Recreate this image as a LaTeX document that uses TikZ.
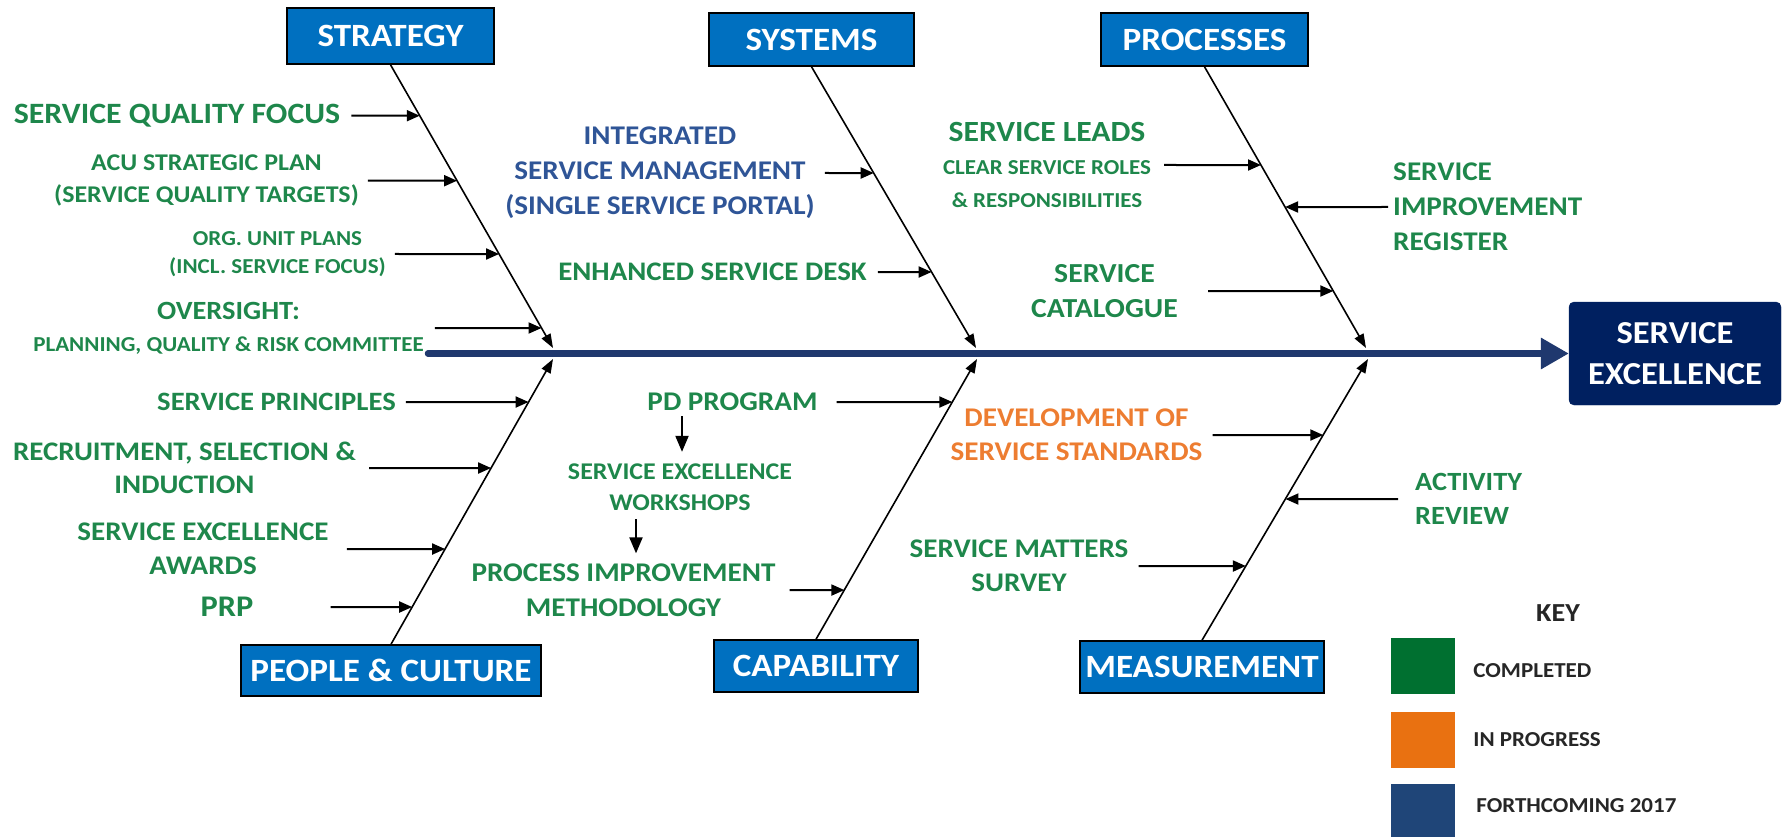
\documentclass[tikz,border=0pt]{standalone}
\usepackage{fontspec}
\setmainfont{Carlito}[FakeStretch=1.08]
\usetikzlibrary{arrows.meta,positioning}
\definecolor{catblue}{RGB}{0,112,192}
\definecolor{headnavy}{RGB}{0,32,96}
\definecolor{spinenavy}{RGB}{31,56,110}
\definecolor{donegreen}{RGB}{30,135,75}
\definecolor{textblue}{RGB}{47,85,151}
\definecolor{textorange}{RGB}{237,125,49}
\definecolor{keygreen}{RGB}{0,112,48}
\definecolor{keyorange}{RGB}{233,113,17}
\definecolor{keynavy}{RGB}{31,69,120}
\newcommand\fsz[2]{\fontsize{#1}{#2}\selectfont\bfseries}
\begin{document}
\begin{tikzpicture}[x=1pt,y=-1pt,
  headbox/.style={draw=black,line width=1.5pt,fill=catblue,text=white,inner sep=0pt,font=\fsz{32.5}{38}},
  lbl/.style={text=donegreen,align=center,inner sep=0pt},
  spine/.style={spinenavy,line width=6.5pt,line cap=round,-{Triangle[length=28pt,width=30pt]}},
  bone/.style={line width=1.6pt,-{Triangle[length=14pt,width=10pt]}},
  feed/.style={line width=2pt,-{Triangle[length=13pt,width=11pt]}},
  drop/.style={line width=2pt,-{Triangle[length=16pt,width=13pt]}},
  keybox/.style={minimum width=64pt,minimum height=56pt,inner sep=0pt},
  keytxt/.style={text=black!85,inner sep=0pt,font=\fsz{21.3}{25}}]
\useasboundingbox (0,0) rectangle (1789,837);

\node[headbox,minimum width=207pt,minimum height=56pt] (strategy) at (390.5,36) {STRATEGY};
\node[headbox,minimum width=205pt,minimum height=53pt] (systems) at (811.5,39.5) {SYSTEMS};
\node[headbox,minimum width=207pt,minimum height=53pt] (processes) at (1204.5,39.5) {PROCESSES};
\node[headbox,minimum width=300pt,minimum height=51pt] (people) at (391,670.5) {PEOPLE \& CULTURE};
\node[headbox,minimum width=204pt,minimum height=52pt] (capability) at (816,666) {CAPABILITY};
\node[headbox,minimum width=244pt,minimum height=52pt] (measurement) at (1202,667) {MEASUREMENT};
\node[draw=headnavy,fill=headnavy,rounded corners=5pt,text=white,align=center,
  minimum width=212pt,minimum height=103pt,inner sep=0pt,font=\fsz{32}{41}] (excellence) at (1675,353.5) {SERVICE\\EXCELLENCE};

\coordinate (tail) at (428,353.5);
\coordinate (sa) at (553,348);
\coordinate (sy) at (976,348);
\coordinate (pr) at (1366,348);
\coordinate (pe) at (553,359);
\coordinate (ca) at (977,359);
\coordinate (me) at (1368,359);
\draw[spine] (tail) -- (excellence.west);
\draw[bone] (strategy.south) -- (sa);
\draw[bone] (systems.south) -- (sy);
\draw[bone] (processes.south) -- (pr);
\draw[bone] (people.north) -- (pe);
\draw[bone] (capability.north) -- (ca);
\draw[bone] (measurement.north) -- (me);

\node[lbl,font=\fsz{29.5}{34}] (sqf) at (177,115.7) {SERVICE QUALITY FOCUS};
\node[lbl,font=\fsz{24}{32}] (acu) at (206.5,180.7) {ACU STRATEGIC PLAN\\(SERVICE QUALITY TARGETS)};
\node[lbl,font=\fsz{21.3}{28.5}] (org) at (277.5,254) {ORG. UNIT PLANS\\(INCL. SERVICE FOCUS)};
\node[lbl,font=\fsz{21.3}{32}] (over) at (228.5,328) {{\fsz{26.3}{32}OVERSIGHT:}\\PLANNING, QUALITY \& RISK COMMITTEE};
\node[lbl,font=\fsz{26.5}{30}] (prin) at (276.5,402) {SERVICE PRINCIPLES};
\node[lbl,font=\fsz{26.8}{33}] (recr) at (184.5,468) {RECRUITMENT, SELECTION \&\\INDUCTION};
\node[lbl,font=\fsz{26.9}{34}] (award) at (203,549) {SERVICE EXCELLENCE\\AWARDS};
\node[lbl,font=\fsz{30}{36}] (prp) at (227,607) {PRP};
\node[lbl,text=textblue,font=\fsz{27}{35}] (ism) at (660,173) {INTEGRATED\\SERVICE MANAGEMENT\\(SINGLE SERVICE PORTAL)};
\node[lbl,font=\fsz{26.8}{32}] (desk) at (712.5,272) {ENHANCED SERVICE DESK};
\node[lbl,font=\fsz{21.3}{33}] (leads) at (1047,165) {{\fsz{29.3}{33}SERVICE LEADS}\\CLEAR SERVICE ROLES\\\& RESPONSIBILITIES};
\node[lbl,font=\fsz{27.5}{35}] (catal) at (1104.5,291) {SERVICE\\CATALOGUE};
\node[lbl,align=left,anchor=west,font=\fsz{27}{35}] (sir) at (1393,207) {SERVICE\\IMPROVEMENT\\REGISTER};
\node[lbl,font=\fsz{27}{33}] (pd) at (732.5,402) {PD PROGRAM};
\node[lbl,font=\fsz{24}{31}] (sew) at (680,487.5) {SERVICE EXCELLENCE\\WORKSHOPS};
\node[lbl,font=\fsz{27}{35}] (pim) at (623.5,590) {PROCESS IMPROVEMENT\\METHODOLOGY};
\node[lbl,text=textorange,font=\fsz{27}{34}] (dev) at (1076.5,435) {DEVELOPMENT OF\\SERVICE STANDARDS};
\node[lbl,font=\fsz{26.9}{34}] (sms) at (1019,566) {SERVICE MATTERS\\SURVEY};
\node[lbl,align=left,anchor=west,font=\fsz{26.3}{34.5}] (act) at (1415,499) {ACTIVITY\\REVIEW};

\draw[feed] ([xshift=11pt]sqf.east) -- (intersection of sqf.west--sqf.east and strategy.south--sa);
\draw[feed] ([xshift=9pt]acu.east) -- (intersection of acu.west--acu.east and strategy.south--sa);
\draw[feed] ([xshift=9pt]org.east) -- (intersection of org.west--org.east and strategy.south--sa);
\draw[feed] ([xshift=11pt]over.east) -- (intersection of over.west--over.east and strategy.south--sa);
\draw[feed] ([xshift=10pt]prin.east) -- (intersection of prin.west--prin.east and people.north--pe);
\draw[feed] ([xshift=13pt]recr.east) -- (intersection of recr.west--recr.east and people.north--pe);
\draw[feed] ([xshift=18pt]award.east) -- (intersection of award.west--award.east and people.north--pe);
\draw[feed] ([xshift=77pt]prp.east) -- (intersection of prp.west--prp.east and people.north--pe);
\draw[feed] ([xshift=10pt]ism.east) -- (intersection of ism.west--ism.east and systems.south--sy);
\draw[feed] ([xshift=11pt]desk.east) -- (intersection of desk.west--desk.east and systems.south--sy);
\draw[feed] ([xshift=13pt]leads.east) -- (intersection of leads.west--leads.east and processes.south--pr);
\draw[feed] ([xshift=30pt]catal.east) -- (intersection of catal.west--catal.east and processes.south--pr);
\draw[feed] ([xshift=-5pt]sir.west) -- (intersection of sir.west--sir.east and processes.south--pr);
\draw[feed] ([xshift=19pt]pd.east) -- (intersection of pd.west--pd.east and capability.north--ca);
\draw[feed] ([xshift=14pt]pim.east) -- (intersection of pim.west--pim.east and capability.north--ca);
\draw[feed] ([xshift=10pt]dev.east) -- (intersection of dev.west--dev.east and measurement.north--me);
\draw[feed] ([xshift=10pt]sms.east) -- (intersection of sms.west--sms.east and measurement.north--me);
\draw[feed] ([xshift=-17pt]act.west) -- (intersection of act.west--act.east and measurement.north--me);

\coordinate (d1) at (682,0);
\coordinate (d2) at (636,0);
\draw[drop,shorten <=5pt,shorten >=12pt] (pd.south -| d1) -- (sew.north -| d1);
\draw[drop,shorten <=8pt,shorten >=10pt] (sew.south -| d2) -- (pim.north -| d2);

\node[keytxt,font=\fsz{26}{30}] (key) at (1558,613.5) {KEY};
\node[keybox,fill=keygreen] (done) at (1423,666) {};
\node[keybox,fill=keyorange] (doing) at (1423,739.5) {};
\node[keybox,fill=keynavy] (soon) at (1423,812) {};
\node[keytxt,right=18pt of done,yshift=-5pt] (donetxt) {COMPLETED};
\node[keytxt,right=18pt of doing] (doingtxt) {IN PROGRESS};
\node[keytxt,right=21pt of soon,yshift=6pt] (soontxt) {FORTHCOMING 2017};
\end{tikzpicture}
\end{document}
